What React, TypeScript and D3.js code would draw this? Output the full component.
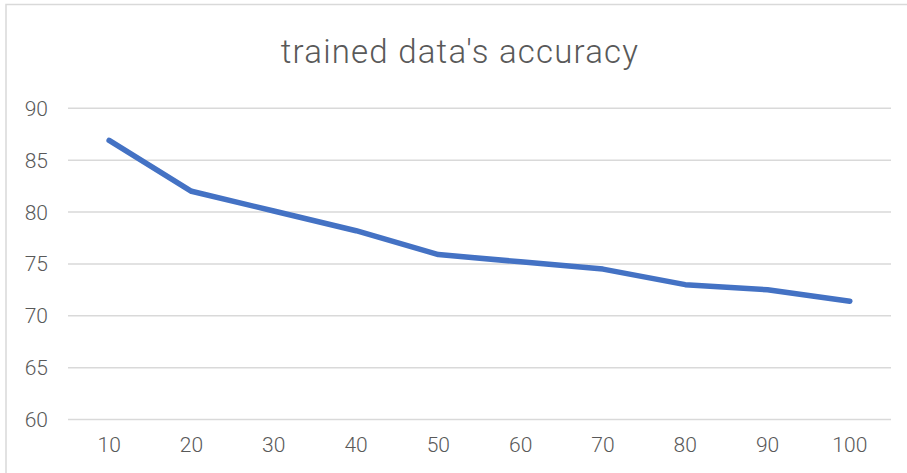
import React from "react";
import * as d3 from "d3";

// values
const categories = ["10", "20", "30", "40", "50", "60", "70", "80", "90", "100"];
const accuracy = [86.9, 82.0, 80.1, 78.2, 75.9, 75.2, 74.5, 73.0, 72.5, 71.4];
const yTicks = [60, 65, 70, 75, 80, 85, 90];
const title = "trained data's accuracy";

const App = () => {
  const width = 907;
  const height = 473;
  const plot = { left: 68, right: 891, top: 108.3, bottom: 419.5 };

  const xScale = d3
    .scaleBand()
    .domain(categories)
    .range([plot.left, plot.right]);

  const yScale = d3
    .scaleLinear()
    .domain([60, 90])
    .range([plot.bottom, plot.top]);

  const xc = (c: string) => (xScale(c) as number) + xScale.bandwidth() / 2;

  const line = d3
    .line<number>()
    .x((d, i) => xc(categories[i]))
    .y((d) => yScale(d));

  const font = "Roboto, 'Noto Sans', sans-serif";
  const textColor = "#595959";

  return (
    <svg
      width={width}
      height={height}
      style={{ position: "absolute", left: 0, top: 0, background: "#fff" }}
    >
      {/* chart border */}
      <rect x={6} y={4.5} width={width + 10} height={height + 10} fill="#fff" stroke="#d9d9d9" strokeWidth={1.5} />

      <text
        x={460}
        y={63}
        textAnchor="middle"
        fontFamily={font}
        fontSize={33}
        fontWeight={300}
        letterSpacing={1.2}
        fill={textColor}
      >
        {title}
      </text>

      {yTicks.map((t) => (
        <g key={t}>
          <line
            x1={plot.left}
            x2={plot.right}
            y1={yScale(t)}
            y2={yScale(t)}
            stroke="#d9d9d9"
            strokeWidth={1.5}
          />
          <text
            x={48}
            y={yScale(t)}
            dy="0.36em"
            textAnchor="end"
            fontFamily={font}
            fontSize={21}
            fontWeight={300}
            fill={textColor}
          >
            {t}
          </text>
        </g>
      ))}

      {categories.map((c) => (
        <text
          key={c}
          x={xc(c)}
          y={444}
          dy="0.36em"
          textAnchor="middle"
          fontFamily={font}
          fontSize={21}
          fontWeight={300}
          fill={textColor}
        >
          {c}
        </text>
      ))}

      <path
        d={line(accuracy) || ""}
        fill="none"
        stroke="#4472c4"
        strokeWidth={5.5}
        strokeLinecap="round"
        strokeLinejoin="round"
      />
    </svg>
  );
};

export default App;
